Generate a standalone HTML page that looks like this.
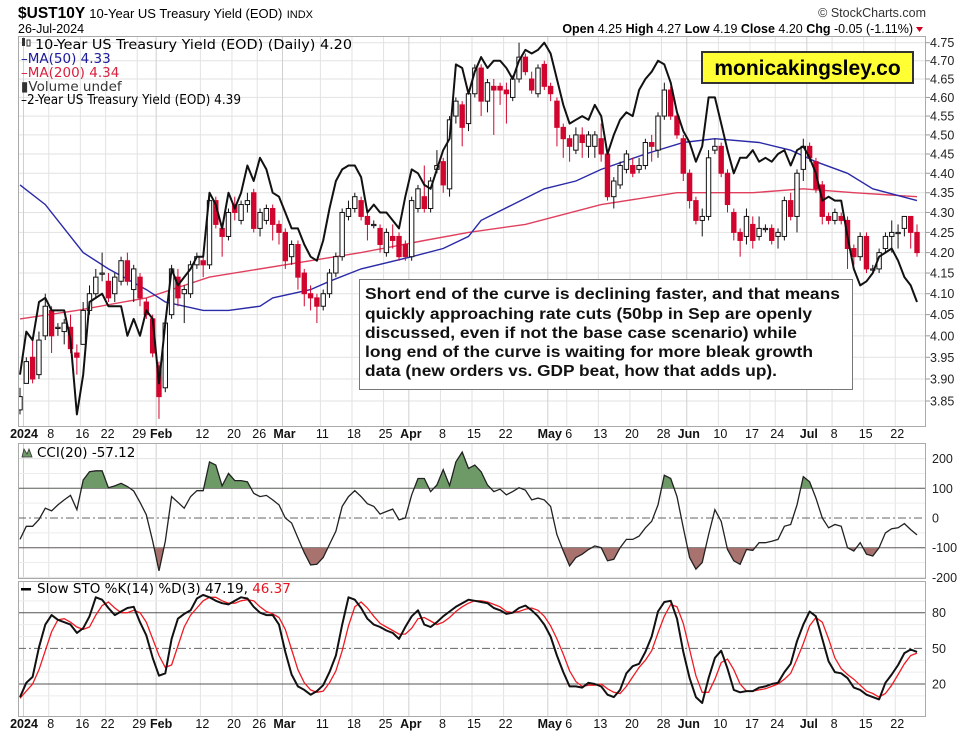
<!DOCTYPE html>
<html><head><meta charset="utf-8"><title>$UST10Y chart</title>
<style>
html,body{margin:0;padding:0;background:#fff;}
svg{display:block;font-family:"Liberation Sans",Arial,sans-serif;}
.lg{font-family:"DejaVu Sans","Liberation Sans",sans-serif;font-size:13.5px;}
</style></head>
<body>
<svg id="chart" width="966" height="735" viewBox="0 0 966 735" xmlns="http://www.w3.org/2000/svg">
<defs>
<clipPath id="clipMain"><rect x="18" y="36" width="908" height="390"/></clipPath>
<clipPath id="clipCCI"><rect x="18" y="443" width="908" height="135"/></clipPath>
<clipPath id="clipSTO"><rect x="18" y="581" width="908" height="135"/></clipPath>
</defs>
<rect width="966" height="735" fill="#fff"/>
<g id="header">
<text x="18" y="18" font-size="15.5" font-weight="bold">$UST10Y <tspan font-weight="normal" font-size="13">10-Year US Treasury Yield (EOD)</tspan> <tspan font-weight="normal" font-size="11">INDX</tspan></text>
<text x="18" y="33" font-size="12.5">26-Jul-2024</text>
<text x="926" y="17" font-size="12.5" text-anchor="end" fill="#333">© StockCharts.com</text>
<text x="913" y="33" font-size="12.5" text-anchor="end"><tspan font-weight="bold">Open</tspan> 4.25 <tspan font-weight="bold">High</tspan> 4.27 <tspan font-weight="bold">Low</tspan> 4.19 <tspan font-weight="bold">Close</tspan> 4.20 <tspan font-weight="bold">Chg</tspan> -0.05 (-1.11%)</text>
<path d="M916 27 L923 27 L919.5 32 Z" fill="#cc0022"/>
</g>
<g id="gridMain"></g><g id="gridCCI"></g><g id="gridSTO"></g>
<g id="main" clip-path="url(#clipMain)"></g>
<g id="cci" clip-path="url(#clipCCI)"></g>
<g id="sto" clip-path="url(#clipSTO)"></g>
<g id="axes"></g>
<g id="legends" class="lg">
<rect x="22" y="38" width="3" height="8" fill="#333"/>
<rect x="27" y="40" width="3" height="6" fill="#fff" stroke="#333" stroke-width="1"/>
<text x="35" y="49" textLength="317" lengthAdjust="spacingAndGlyphs">10-Year US Treasury Yield (EOD) (Daily) 4.20</text>
<text x="21" y="63" fill="#1a1a9c">–MA(50) 4.33</text>
<text x="21" y="77" fill="#d9213f">–MA(200) 4.34</text>
<text x="21" y="91" fill="#333">▮Volume undef</text>
<text x="21" y="104" textLength="220" lengthAdjust="spacingAndGlyphs">–2-Year US Treasury Yield (EOD) 4.39</text>
<path d="M22 457 L24 449 L27 454 L29 449 L32 457 Z" fill="#6e9a68" stroke="#333" stroke-width="0.8"/>
<text x="37" y="457">CCI(20) -57.12</text>
<rect x="21" y="588" width="10" height="2.5" fill="#000"/>
<text x="37" y="593">Slow STO %K(14) %D(3) 47.19, <tspan fill="#e8141e">46.37</tspan></text>
</g>
<g>
<rect x="702" y="52" width="211" height="31" fill="#ffff33" stroke="#333" stroke-width="2"/>
<text x="807.5" y="75" font-size="21" font-weight="bold" text-anchor="middle">monicakingsley.co</text>
</g>
<g>
<rect x="359.5" y="279.5" width="493" height="110" fill="#fff" stroke="#777" stroke-width="1"/>
<g font-size="15.5" font-weight="bold" fill="#111">
<text x="365" y="299" textLength="475" lengthAdjust="spacingAndGlyphs">Short end of the curve is declining faster, and that means</text>
<text x="365" y="319" textLength="447" lengthAdjust="spacingAndGlyphs">quickly approaching rate cuts (50bp in Sep are openly</text>
<text x="365" y="338" textLength="432" lengthAdjust="spacingAndGlyphs">discussed, even if not the base case scenario) while</text>
<text x="365" y="357" textLength="448" lengthAdjust="spacingAndGlyphs">long end of the curve is waiting for more bleak growth</text>
<text x="365" y="376" textLength="412" lengthAdjust="spacingAndGlyphs">data (new orders vs. GDP beat, how that adds up).</text>
</g></g>
</svg>
<script>
const openV=[3.83,3.89,3.95,3.91,4.00,4.06,4.02,4.01,4.02,3.96,
3.98,4.06,4.10,4.15,4.13,4.10,4.13,4.18,4.11,4.14,
4.08,4.04,3.93,3.88,4.05,4.14,4.10,4.10,4.17,4.18,
4.17,4.33,4.26,4.24,4.32,4.28,4.32,4.35,4.26,4.28,
4.31,4.27,4.25,4.19,4.22,4.15,4.10,4.09,4.07,4.10,
4.15,4.19,4.29,4.31,4.33,4.29,4.27,4.26,4.20,4.24,
4.24,4.22,4.19,4.31,4.34,4.31,4.41,4.43,4.36,4.55,
4.58,4.53,4.61,4.68,4.59,4.63,4.63,4.62,4.60,4.65,
4.71,4.65,4.61,4.69,4.63,4.59,4.52,4.49,4.46,4.50,
4.47,4.47,4.49,4.45,4.34,4.37,4.41,4.42,4.41,4.42,
4.48,4.46,4.55,4.62,4.55,4.49,4.40,4.33,4.28,4.29,
4.46,4.47,4.40,4.30,4.25,4.24,4.27,4.24,4.26,4.26,
4.24,4.24,4.33,4.29,4.41,4.47,4.43,4.37,4.29,4.28,
4.29,4.28,4.21,4.19,4.24,4.16,4.16,4.21,4.24,4.25,
4.26,4.29,4.25];
const closeV=[3.86,3.94,3.90,3.99,4.07,4.00,4.02,4.03,3.97,3.95,
4.06,4.10,4.14,4.15,4.09,4.14,4.18,4.13,4.16,4.09,
4.05,3.96,3.86,4.03,4.16,4.09,4.11,4.17,4.19,4.17,
4.33,4.27,4.24,4.30,4.30,4.32,4.33,4.26,4.30,4.31,
4.27,4.25,4.18,4.22,4.14,4.10,4.09,4.07,4.10,4.15,
4.19,4.30,4.31,4.34,4.29,4.27,4.27,4.22,4.25,4.23,
4.19,4.19,4.33,4.36,4.31,4.38,4.42,4.37,4.54,4.59,
4.52,4.61,4.68,4.59,4.64,4.62,4.62,4.61,4.65,4.71,
4.67,4.62,4.68,4.63,4.61,4.52,4.49,4.47,4.50,4.48,
4.50,4.50,4.45,4.34,4.38,4.42,4.45,4.40,4.42,4.48,
4.47,4.55,4.62,4.55,4.50,4.40,4.33,4.28,4.29,4.44,
4.47,4.40,4.32,4.25,4.23,4.29,4.23,4.26,4.26,4.23,
4.25,4.33,4.29,4.40,4.47,4.44,4.36,4.29,4.28,4.30,
4.28,4.21,4.19,4.24,4.16,4.16,4.20,4.24,4.25,4.25,
4.29,4.25,4.20];
const highV=[3.88,3.95,3.99,4.01,4.10,4.07,4.03,4.04,4.05,3.98,
4.08,4.12,4.16,4.20,4.15,4.15,4.19,4.20,4.17,4.15,
4.09,4.05,3.94,4.04,4.17,4.16,4.12,4.18,4.20,4.19,
4.35,4.34,4.27,4.31,4.34,4.33,4.35,4.36,4.31,4.32,
4.32,4.28,4.26,4.23,4.23,4.16,4.12,4.10,4.11,4.16,
4.20,4.31,4.33,4.35,4.34,4.30,4.28,4.27,4.26,4.27,
4.25,4.23,4.34,4.37,4.42,4.39,4.46,4.44,4.55,4.60,
4.59,4.62,4.69,4.69,4.65,4.65,4.64,4.64,4.66,4.75,
4.72,4.67,4.69,4.70,4.64,4.60,4.53,4.50,4.52,4.52,
4.51,4.51,4.53,4.46,4.39,4.43,4.46,4.44,4.44,4.49,
4.50,4.56,4.64,4.63,4.56,4.50,4.41,4.34,4.31,4.46,
4.49,4.48,4.41,4.31,4.26,4.31,4.29,4.29,4.27,4.27,
4.26,4.34,4.35,4.41,4.49,4.48,4.44,4.38,4.30,4.31,
4.30,4.29,4.22,4.25,4.25,4.17,4.21,4.25,4.28,4.27,
4.29,4.29,4.27];
const lowV=[3.82,3.89,3.89,3.90,3.99,3.96,4.00,3.98,3.96,3.91,
3.98,4.05,4.09,4.13,4.08,4.08,4.12,4.12,4.08,4.07,
4.04,3.95,3.81,3.87,4.04,4.07,4.03,4.09,4.16,4.14,
4.16,4.26,4.19,4.23,4.28,4.27,4.30,4.25,4.24,4.27,
4.23,4.22,4.16,4.17,4.11,4.07,4.06,4.03,4.06,4.09,
4.14,4.18,4.28,4.30,4.28,4.23,4.26,4.20,4.19,4.21,
4.18,4.18,4.18,4.30,4.30,4.30,4.40,4.35,4.34,4.53,
4.47,4.51,4.60,4.55,4.56,4.50,4.58,4.53,4.59,4.64,
4.66,4.61,4.60,4.62,4.59,4.47,4.44,4.43,4.45,4.44,
4.44,4.44,4.43,4.33,4.31,4.36,4.40,4.39,4.40,4.41,
4.43,4.44,4.54,4.54,4.49,4.38,4.31,4.27,4.24,4.28,
4.45,4.39,4.30,4.23,4.19,4.22,4.21,4.23,4.25,4.22,
4.21,4.23,4.28,4.25,4.38,4.43,4.35,4.27,4.27,4.27,
4.27,4.16,4.17,4.18,4.15,4.15,4.15,4.20,4.20,4.21,
4.24,4.21,4.19];
const twoYear=[3.91,4.01,3.99,4.08,4.09,4.06,4.06,4.06,3.99,3.82,
3.91,4.08,4.09,4.10,4.07,4.07,4.07,4.00,4.04,4.00,
4.06,4.04,3.89,4.03,4.16,4.12,4.14,4.16,4.19,4.19,
4.35,4.32,4.26,4.35,4.31,4.35,4.42,4.38,4.44,4.41,
4.35,4.34,4.30,4.26,4.26,4.22,4.19,4.18,4.23,4.31,
4.38,4.41,4.42,4.42,4.39,4.30,4.32,4.30,4.30,4.28,
4.26,4.34,4.41,4.40,4.37,4.36,4.41,4.46,4.49,4.69,
4.68,4.61,4.67,4.71,4.68,4.70,4.70,4.68,4.65,4.70,
4.73,4.72,4.73,4.75,4.72,4.65,4.58,4.53,4.54,4.55,
4.54,4.58,4.55,4.45,4.50,4.54,4.56,4.55,4.62,4.65,
4.67,4.70,4.69,4.64,4.56,4.51,4.48,4.43,4.47,4.60,
4.60,4.53,4.46,4.40,4.44,4.44,4.46,4.43,4.44,4.43,
4.45,4.46,4.42,4.46,4.47,4.44,4.40,4.33,4.34,4.33,
4.33,4.24,4.16,4.12,4.13,4.15,4.19,4.20,4.21,4.18,
4.14,4.12,4.08];
const ma50Idx=[0,4,10,14,20,23,26,29,33,38,40,46,49,54,62,67,71,73,78,83,88,92,99,105,110,117,122,126,131,135,142];
const ma50Val=[4.37,4.32,4.20,4.16,4.11,4.08,4.07,4.06,4.06,4.07,4.09,4.11,4.13,4.16,4.19,4.21,4.24,4.28,4.32,4.36,4.38,4.41,4.45,4.48,4.49,4.48,4.46,4.43,4.40,4.36,4.33];
const ma200Idx=[0,9,20,30,46,54,64,71,80,92,104,116,124,132,142];
const ma200Val=[4.04,4.06,4.09,4.14,4.18,4.20,4.23,4.25,4.27,4.32,4.35,4.35,4.36,4.35,4.34];
const cciV=[-72,-28,-28,-5,33,24,44,61,76,28,
128,156,159,159,102,108,117,106,91,53,
11,-78,-178,-78,72,53,33,72,92,92,
189,178,108,150,126,126,122,83,72,76,
61,44,0,-17,-67,-117,-158,-156,-133,-89,
-44,39,72,92,72,48,39,13,22,30,
-6,0,78,133,133,89,111,163,109,189,
222,167,178,156,111,89,97,78,89,102,
94,61,67,61,39,-56,-111,-161,-133,-122,
-106,-94,-100,-144,-139,-100,-72,-72,-61,-33,
-11,44,144,133,72,-33,-133,-172,-150,-56,
28,-11,-106,-144,-156,-106,-109,-83,-83,-78,
-72,-28,-22,44,139,122,67,0,-33,-22,
-28,-100,-111,-83,-122,-128,-100,-50,-36,-33,
-19,-39,-57];
const stoK=[9,21,26,51,70,78,74,72,70,63,
67,77,93,91,84,78,81,84,85,72,
61,42,27,29,58,75,79,82,92,95,
93,90,88,87,90,93,92,85,80,78,
78,70,47,28,18,15,11,14,19,30,
44,70,93,91,84,75,70,68,65,63,
58,68,77,82,70,68,72,77,81,85,
88,91,90,89,88,84,82,79,80,84,
86,82,77,70,60,44,30,18,18,17,
21,20,18,11,9,15,29,35,37,47,
60,81,89,90,75,47,25,9,4,25,
42,48,33,15,13,14,14,17,18,20,
21,30,37,56,70,81,77,58,39,30,
29,25,17,15,11,9,7,21,28,36,
46,49,47];
const stoD=[8,14,20,32,48,64,74,75,72,68,
66,68,78,86,89,84,80,80,82,80,
72,58,44,34,36,52,68,78,84,90,
93,93,90,88,88,90,91,90,85,81,
79,76,66,49,32,21,15,13,14,21,
31,48,69,85,89,84,77,71,68,65,
62,62,67,75,76,73,70,72,76,81,
85,88,90,90,89,87,85,81,80,81,
83,84,82,77,69,58,45,31,22,18,
19,19,20,16,13,12,18,26,34,40,
48,63,77,87,85,71,49,27,13,13,
24,38,41,32,20,14,14,15,16,18,
20,24,29,41,54,69,76,72,58,42,
33,28,24,19,14,12,9,12,19,28,
37,44,46];
const priceTicks=[4.75,4.70,4.65,4.60,4.55,4.50,4.45,4.40,4.35,4.30,4.25,4.20,4.15,4.10,4.05,4.00,3.95,3.90,3.85];
const priceTickLabels=["4.75","4.70","4.65","4.60","4.55","4.50","4.45","4.40","4.35","4.30","4.25","4.20","4.15","4.10","4.05","4.00","3.95","3.90","3.85"];
const cciTicks=[200,100,0,-100,-200];
const stoTicks=[80,50,20];
const dateIdx=[0,4,9,13,18,21,28,33,37,41,47,52,57,61,66,71,76,83,86,91,96,101,105,110,115,119,124,128,133,138];
const dateLabels=["2024","8","16","22","29","Feb","12","20","26","Mar","11","18","25","Apr","8","15","22","May","6","13","20","28","Jun","10","17","24","Jul","8","15","22"];
const dateBold=[1,0,0,0,0,1,0,0,0,1,0,0,0,1,0,0,0,1,0,0,0,0,1,0,0,0,1,0,0,0];

const NS="http://www.w3.org/2000/svg";
function mk(tag,attrs,parent){const e=document.createElementNS(NS,tag);for(const k in attrs)e.setAttribute(k,attrs[k]);parent.appendChild(e);return e;}
const X0=18,X1=926;
function xOf(i){return 20+i*6.317;}
function yMain(v){return 42.7+(Math.log(4.75)-Math.log(v))*1705.7;}
function yCCI(v){return 518-v*0.297;}
function ySTO(v){return 684-(v-20)*1.188;}
const gM=document.getElementById('gridMain'),gC=document.getElementById('gridCCI'),gS=document.getElementById('gridSTO');
const main=document.getElementById('main'),cci=document.getElementById('cci'),sto=document.getElementById('sto'),axes=document.getElementById('axes');

priceTicks.forEach((t,k)=>{
  const y=yMain(t);
  const l=mk('line',{x1:X0,x2:X1,y1:y,y2:y,stroke:'#e2e2e2','stroke-width':1},gM);
  
  
  const tk=mk('line',{x1:X1,x2:X1+4,y1:y,y2:y,stroke:'#999','stroke-width':1},axes);
  
  
  const tx=mk('text',{x:X1+4,y:y+4.5,'font-size':12.5,fill:'#222'},axes);
  tx.textContent=priceTickLabels[k];
  
  
});
[150,50,-50,-150].forEach(t=>{const y=yCCI(t);const l=mk('line',{x1:X0,x2:X1,y1:y,y2:y,stroke:'#ececec'},gC);});
cciTicks.forEach(t=>{
  const y=yCCI(t);
  let st='#e2e2e2',dash=null,w=1;
  if(t===100||t===-100){st='#555';w=1;}
  if(t===0){st='#666';dash='8,3,2,3';}
  const l=mk('line',{x1:X0,x2:X1,y1:y,y2:y,stroke:st,'stroke-width':w},gC);
  if(dash)l.setAttribute('stroke-dasharray',dash);
  
  
  const tx=mk('text',{x:X1+6,y:y+4.5,'font-size':12.5,fill:'#222'},axes);
  tx.textContent=String(t);
  
  
});
[10,30,40,60,70,90].forEach(t=>{const y=ySTO(t);const l=mk('line',{x1:X0,x2:X1,y1:y,y2:y,stroke:'#ececec'},gS);});
stoTicks.forEach(t=>{
  const y=ySTO(t);
  const l=mk('line',{x1:X0,x2:X1,y1:y,y2:y,stroke:t===50?'#666':'#555','stroke-width':1},gS);
  if(t===50)l.setAttribute('stroke-dasharray','8,3,2,3');
  
  
  const tx=mk('text',{x:X1+6,y:y+4.5,'font-size':12.5,fill:'#222'},axes);
  tx.textContent=String(t);
  
  
});
dateIdx.forEach((di,k)=>{
  const x=xOf(di)+3.5;
  [[36,426],[443,578],[581,716]].forEach(r=>{
    const l=mk('line',{x1:x,x2:x,y1:r[0],y2:r[1],stroke:dateBold[k]?'#cfcfcf':'#e2e2e2','stroke-width':1},gM);
    
    
  });
  [438,728].forEach(yy=>{
    let cx=x+2;
    if(dateLabels[k]==='2024')cx=24;
    if(dateLabels[k]==='Feb')cx=x+5;
    const tx=mk('text',{x:cx,y:yy,'font-size':12.5,'text-anchor':'middle',fill:'#111'},axes);
    if(dateBold[k])tx.setAttribute('font-weight','bold');
    tx.textContent=dateLabels[k];
    
    
  });
});
[[36,426],[443,578],[581,716]].forEach(r=>{
  const b=mk('rect',{x:X0+0.5,y:r[0]+0.5,width:X1-X0-1,height:r[1]-r[0],fill:'none',stroke:'#aaa','stroke-width':1},axes);
  
  
});

function polyFrom(idx,vals,yf){return idx.map((d,k)=>xOf(d).toFixed(1)+','+yf(vals[k]).toFixed(1)).join(' ');}
const m200=mk('polyline',{points:polyFrom(ma200Idx,ma200Val,yMain),fill:'none',stroke:'#e0405e','stroke-width':1.4},main);


const m50=mk('polyline',{points:polyFrom(ma50Idx,ma50Val,yMain),fill:'none',stroke:'#2a2aa8','stroke-width':1.4},main);



for(let i=0;i<closeV.length;i++){
  const x=xOf(i),o=openV[i],c=closeV[i];
  const down=c<o;
  const col=down?'#d1052e':'#111';
  const w=mk('line',{x1:x,x2:x,y1:yMain(highV[i]),y2:yMain(lowV[i]),stroke:col,'stroke-width':1},main);
  
  
  const yt=yMain(Math.max(o,c)),yb=yMain(Math.min(o,c));
  const b=mk('rect',{x:x-2.2,y:yt,width:4.4,height:Math.max(1.2,yb-yt),fill:down?'#d1052e':'#fff',stroke:down?'#d1052e':'#111','stroke-width':1},main);
  
  
}
const l2=mk('polyline',{points:twoYear.map((v,i)=>xOf(i).toFixed(1)+','+yMain(v).toFixed(1)).join(' '),fill:'none',stroke:'#111','stroke-width':2,'stroke-linejoin':'round'},main);



const cciPts=cciV.map((v,i)=>xOf(i).toFixed(1)+','+yCCI(v).toFixed(1));
const xF=xOf(0).toFixed(1),xL=xOf(cciV.length-1).toFixed(1);
const y100=yCCI(100),ym100=yCCI(-100);
const cpA=mk('clipPath',{id:'abv'},cci);
mk('rect',{x:0,y:0,width:966,height:y100},cpA);
const cpB=mk('clipPath',{id:'blw'},cci);
mk('rect',{x:0,y:ym100,width:966,height:200},cpB);
const fa=mk('polygon',{points:cciPts.join(' ')+' '+xL+','+y100+' '+xF+','+y100,fill:'#6e9a68','clip-path':'url(#abv)'},cci);


const fb=mk('polygon',{points:cciPts.join(' ')+' '+xL+','+ym100+' '+xF+','+ym100,fill:'#a8726e','clip-path':'url(#blw)'},cci);


const cl=mk('polyline',{points:cciPts.join(' '),fill:'none',stroke:'#222','stroke-width':1.3},cci);



const dl=mk('polyline',{points:stoD.map((v,i)=>xOf(i).toFixed(1)+','+ySTO(v).toFixed(1)).join(' '),fill:'none',stroke:'#ee1c24','stroke-width':1.3},sto);


const kl=mk('polyline',{points:stoK.map((v,i)=>xOf(i).toFixed(1)+','+ySTO(v).toFixed(1)).join(' '),fill:'none',stroke:'#111','stroke-width':2,'stroke-linejoin':'round'},sto);


</script>
</body></html>
